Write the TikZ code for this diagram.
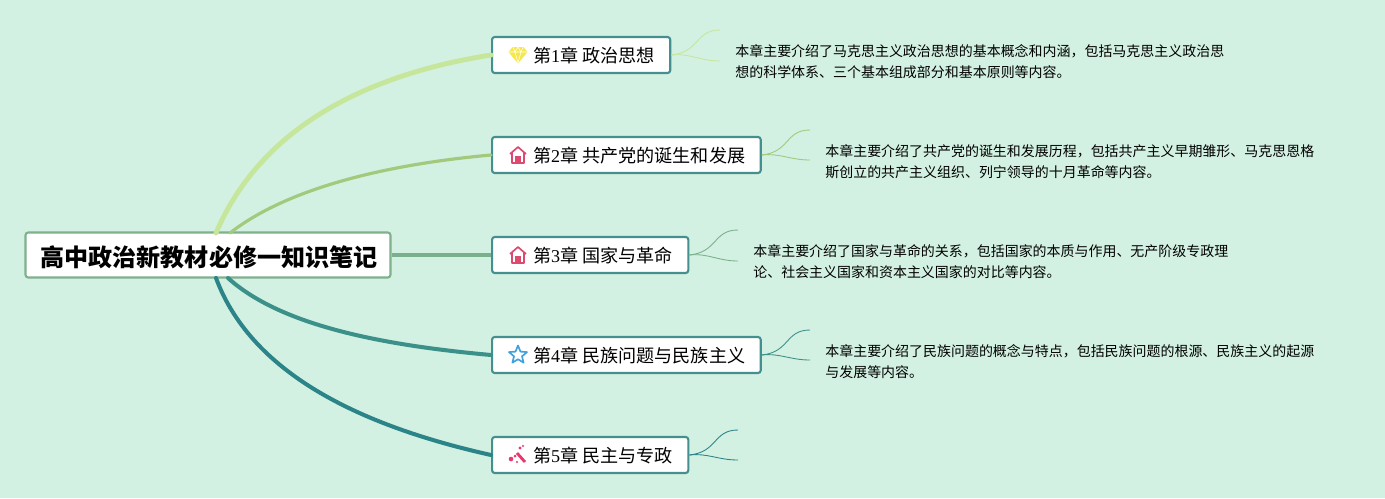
\documentclass[tikz,border=0pt]{standalone}
\usepackage{fontspec}
\setmainfont{Noto Sans CJK SC}
\newfontfamily\latnum{Liberation Serif}
\usetikzlibrary{positioning}
\definecolor{bgmint}{HTML}{D3F1E2}
\definecolor{chborder}{HTML}{45908F}
\definecolor{rootborder}{HTML}{80B08C}
\definecolor{brone}{HTML}{C6E69C}
\definecolor{brtwo}{HTML}{A2C97C}
\definecolor{brthree}{HTML}{7BB08C}
\definecolor{brfour}{HTML}{3B918A}
\definecolor{brfive}{HTML}{2A8488}
\definecolor{gemyellow}{HTML}{F6E84A}
\definecolor{housered}{HTML}{DC4A70}
\definecolor{starblue}{HTML}{3FA2DE}
\definecolor{wandpink}{HTML}{E8386D}
\newcommand{\chtitle}[2]{\hspace*{0.51cm}第{\latnum #1}章 #2}
\tikzset{
  rootbox/.style={draw=rootborder,line width=1.2pt,fill=white,rounded corners=1.5pt,minimum width=7.3cm,minimum height=0.9cm,text height=15pt,text depth=2.4pt,font=\fontsize{13.7pt}{16pt}\selectfont\bfseries,inner sep=0pt},
  chbox/.style={draw=chborder,line width=1.2pt,fill=white,rounded corners=1.5pt,anchor=west,minimum height=0.72cm,text height=10.6pt,text depth=2pt,inner xsep=0.31cm,inner ysep=0pt,font=\fontsize{10.3pt}{12pt}\selectfont},
  notetext/.style={anchor=west,align=left,inner sep=0pt,font=\fontsize{7.95pt}{11.95pt}\selectfont},
  branch/.style={line width=#1,line cap=round},
  leaf/.style={draw=#1,line width=0.5pt},
  gem/.pic={
    \fill[gemyellow] (-5.5,-8)--(5.5,-8)--(9.5,-3)--(0,8.5)--(-9.5,-3)--cycle;
    \draw[white,line width=0.3pt] (-9,-3)--(9,-3) (-3,-3)--(0,8)--(3,-3) (-5,-8)--(-3,-3)--(0,-8)--(3,-3)--(5,-8);
  },
  house/.pic={
    \draw[housered,line width=0.95pt,line join=round] (-8,-1)--(0,-8)--(8,-1) (-6,-2.5)--(-6,8)--(6,8)--(6,-2.5);
    \fill[housered] (-2.8,1)--(2.8,1)--(2.8,8)--(-2.8,8)--cycle;
  },
  starpic/.pic={
    \draw[starblue,line width=0.95pt,line join=round] (0,-9.5)--(2.5,-3.4)--(9,-2.9)--(4,1.3)--(5.6,7.7)--(0,4.2)--(-5.6,7.7)--(-4,1.3)--(-9,-2.9)--(-2.5,-3.4)--cycle;
  },
  wand/.pic={
    \draw[wandpink,line width=1.6pt] (-1,-2)--(7,7);
    \fill[wandpink] (2,-7) circle (1.7) (5,-9) circle (1.1) (-7,4) circle (2.3) (-3,1) circle (1.5) (-1,7) circle (1.1);
  }
}
\begin{document}
\begin{tikzpicture}[x=0.02cm,y=-0.02cm]
\fill[bgmint] (0,0) rectangle (1385,498);
\useasboundingbox (0,0) rectangle (1385,498);
\coordinate (rootn1) at (216,233);
\coordinate (rootn2) at (230,233);
\coordinate (roots4) at (228,278);
\coordinate (roots5) at (216,278);
\node[rootbox] (root) at (208,255) {\hspace*{0.04cm}高中政治新教材必修一知识笔记};
\node[chbox] (ch1) at (491,55) {\chtitle{1}{政治思想}};
\node[chbox] (ch2) at (491,155) {\chtitle{2}{共产党的诞生和发展}};
\node[chbox] (ch3) at (491,255) {\chtitle{3}{国家与革命}};
\node[chbox] (ch4) at (491,355) {\chtitle{4}{民族问题与民族主义}};
\node[chbox] (ch5) at (491,455) {\chtitle{5}{民主与专政}};
\pic at ([xshift=0.54cm]ch1.west) {gem};
\pic at ([xshift=0.54cm]ch2.west) {house};
\pic at ([xshift=0.54cm]ch3.west) {house};
\pic at ([xshift=0.54cm]ch4.west) {starpic};
\pic at ([xshift=0.54cm]ch5.west) {wand};
% main branches
\draw[branch=2.8pt,brone] (rootn1) .. controls (262,125) and (370,74) .. (ch1.west);
\draw[branch=1.8pt,brtwo] (rootn2) .. controls (285,190) and (380,165) .. (ch2.west);
\draw[line width=2.7pt,brthree] (root.east)--(ch3.west);
\draw[branch=2.3pt,brfour] (roots4) .. controls (280,325) and (380,345) .. (ch4.west);
\draw[branch=2.3pt,brfive] (roots5) .. controls (253,378) and (370,428) .. (ch5.west);
% leaves
\node[notetext] (note1) at (735,62) {本章主要介绍了马克思主义政治思想的基本概念和内涵，包括马克思主义政治思\\想的科学体系、三个基本组成部分和基本原则等内容。};
\node[notetext] (note2) at (825,162) {本章主要介绍了共产党的诞生和发展历程，包括共产主义早期雏形、马克思恩格\\斯创立的共产主义组织、列宁领导的十月革命等内容。};
\node[notetext] (note3) at (753,262) {本章主要介绍了国家与革命的关系，包括国家的本质与作用、无产阶级专政理\\论、社会主义国家和资本主义国家的对比等内容。};
\node[notetext] (note4) at (825,362) {本章主要介绍了民族问题的概念与特点，包括民族问题的根源、民族主义的起源\\与发展等内容。};
\coordinate (up1) at (720,30);
\coordinate (lo1) at (720,61);
\coordinate (up2) at (810,130);
\coordinate (lo2) at (810,160);
\coordinate (up3) at (738,230);
\coordinate (lo3) at (738,261);
\coordinate (up4) at (810,330);
\coordinate (lo4) at (810,360);
\coordinate (up5) at (738,430);
\coordinate (lo5) at (738,460);
\draw[leaf=brone] (ch1.east) .. controls (700,52) and (695,30) .. (up1);
\draw[leaf=brone] (ch1.east) .. controls (690,53) and (700,61) .. (lo1);
\draw[leaf=brtwo] (ch2.east) .. controls (790,152) and (785,130) .. (up2);
\draw[leaf=brtwo] (ch2.east) .. controls (780,153) and (790,160) .. (lo2);
\draw[leaf=brthree] (ch3.east) .. controls (718,252) and (713,230) .. (up3);
\draw[leaf=brthree] (ch3.east) .. controls (708,253) and (718,261) .. (lo3);
\draw[leaf=brfour] (ch4.east) .. controls (790,352) and (785,330) .. (up4);
\draw[leaf=brfour] (ch4.east) .. controls (780,353) and (790,360) .. (lo4);
\draw[leaf=brfive] (ch5.east) .. controls (718,452) and (713,430) .. (up5);
\draw[leaf=brfive] (ch5.east) .. controls (708,453) and (718,460) .. (lo5);
\end{tikzpicture}
\end{document}
